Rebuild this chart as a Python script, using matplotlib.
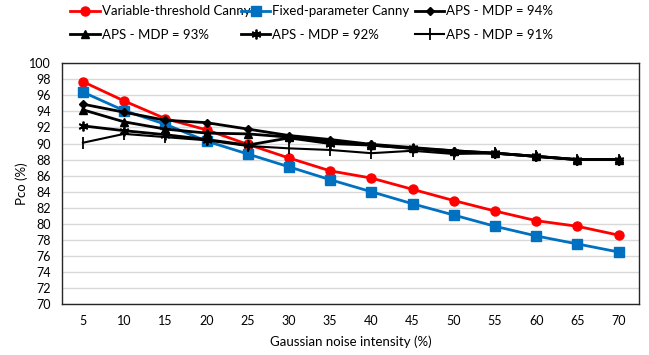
import numpy as np
import matplotlib.pyplot as plt

noise = [5, 10, 15, 20, 25, 30, 35, 40, 45, 50, 55, 60, 65, 70]
variable_canny = [97.7, 95.3, 93.1, 91.7, 89.9, 88.2, 86.6, 85.7, 84.3, 82.9, 81.6, 80.4, 79.7, 78.6]
fixed_canny = [96.4, 94.1, 92.4, 90.3, 88.7, 87.1, 85.5, 84.0, 82.5, 81.1, 79.7, 78.5, 77.5, 76.5]
aps94 = [94.9, 93.9, 92.9, 92.6, 91.8, 91.0, 90.5, 89.9, 89.5, 89.1, 88.8, 88.4, 88.0, 88.0]
aps93 = [94.2, 92.7, 91.8, 91.3, 91.2, 90.8, 90.3, 89.8, 89.4, 89.1, 88.8, 88.4, 88.0, 88.0]
aps92 = [92.2, 91.6, 91.1, 90.5, 89.8, 90.7, 90.0, 89.8, 89.4, 88.9, 88.8, 88.4, 88.0, 88.0]
aps91 = [90.1, 91.2, 90.8, 90.4, 89.7, 89.4, 89.2, 88.8, 89.1, 88.7, 88.8, 88.4, 88.0, 88.0]

plt.rcParams['font.family'] = ['Lato', 'DejaVu Sans']

fig = plt.figure(figsize=(6.49, 3.55), dpi=100)
ax = fig.add_axes([0.096, 0.143, 0.889, 0.679])

x = np.arange(len(noise))
ax.plot(x, variable_canny, color='#ff0000', lw=2, marker='o', ms=6.5, label='Variable-threshold Canny')
ax.plot(x, fixed_canny, color='#0070c0', lw=2, marker='s', ms=6.5, label='Fixed-parameter Canny')
ax.plot(x, aps94, color='black', lw=2, marker='D', ms=4.5, label='APS - MDP = 94%')
ax.plot(x, aps93, color='black', lw=2, marker='^', ms=6, label='APS - MDP = 93%')
ax.plot(x, aps92, color='black', lw=2, marker=(6, 2, 0), ms=7, mew=1.3, label='APS - MDP = 92%')
ax.plot(x, aps91, color='black', lw=1.5, marker='|', ms=9, mew=1.3, label='APS - MDP = 91%')

ax.set_xlim(-0.5, len(noise) - 0.5)
ax.set_ylim(70, 100)
ax.set_yticks(np.arange(70, 101, 2))
ax.set_xticks(x)
ax.set_xticklabels([str(n) for n in noise])
ax.tick_params(length=0, labelsize=9, pad=8)
ax.grid(axis='y', color='#d9d9d9', lw=1)
ax.set_axisbelow(True)
for s in ax.spines.values():
    s.set_color('#262626')
    s.set_linewidth(1)

ax.set_xlabel('Gaussian noise intensity (%)', fontsize=9.5, labelpad=6)
ax.set_ylabel('Pco (%)', fontsize=9.5, labelpad=1)

handles, labels = ax.get_legend_handles_labels()
for col, xpos in enumerate([0.108, 0.371, 0.639]):
    fig.legend([handles[col], handles[col + 3]], [labels[col], labels[col + 3]],
               loc='upper left', bbox_to_anchor=(xpos, 0.985), frameon=False,
               fontsize=9.5, handlelength=2.25, handletextpad=0.15, labelspacing=0.88,
               borderpad=0, borderaxespad=0)

fig.savefig('out.png', dpi=100)
